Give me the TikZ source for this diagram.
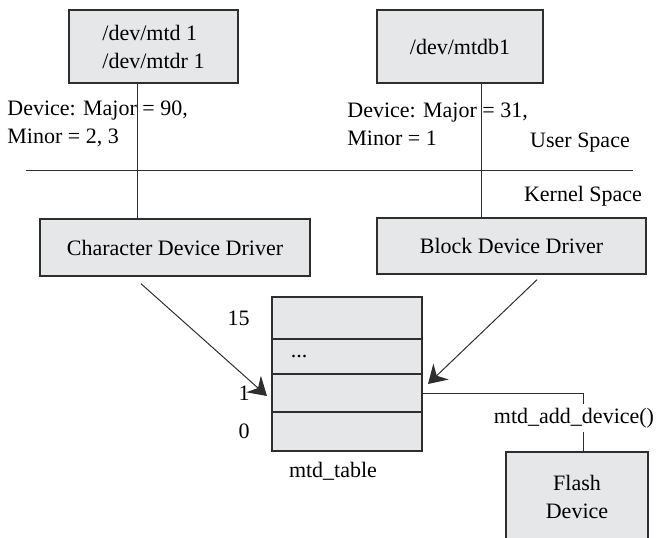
\documentclass[tikz,border=0pt]{standalone}
\usepackage{fontspec}
\setmainfont{Liberation Serif}
\usetikzlibrary{arrows.meta,positioning}
\definecolor{boxgray}{HTML}{E6E7E8}
\definecolor{linegray}{HTML}{2E2E2E}

\begin{document}
\begin{tikzpicture}[x=0.5pt, y=-0.5pt, node distance=0pt, font=\fontsize{11}{14}\selectfont]

% Define styles
\tikzstyle{devbox} = [rectangle, draw=linegray, fill=boxgray, line width=0.7pt, inner sep=0pt]
\tikzstyle{tablerow} = [rectangle, draw=linegray, fill=boxgray, line width=0.6pt, minimum width=75pt, inner sep=0pt, outer sep=0pt]
\tikzstyle{plaintext} = [inner sep=0pt]
\tikzstyle{link} = [draw=linegray, line width=0.5pt]
\tikzstyle{arrow} = [link, -{Stealth[length=9pt, width=11pt, inset=3pt]}]

\useasboundingbox (0,0) rectangle (657,537);

% Device files (user space)
\node (dev_mtd) [devbox, minimum width=84.5pt, minimum height=36.5pt, align=left] at (153.5,46.5) {/dev/mtd 1\\/dev/mtdr 1};
\node (dev_mtdb) [devbox, minimum width=83pt, minimum height=36.5pt] at (460,46.5) {/dev/mtdb1};

\node (maj90) [plaintext, anchor=west, align=left] at (7,124) {Device: Major = 90,\\Minor = 2, 3};
\node (maj31) [plaintext, anchor=west, align=left] at (347,124) {Device: Major = 31,\\Minor = 1};

% User / kernel boundary
\coordinate (sep_l) at (26,170);
\coordinate (sep_r) at (633,170);
\draw [link] (sep_l) -- (sep_r);
\node (user_sp) [plaintext] at (580,143) {User Space};
\node (kern_sp) [plaintext] at (583,196) {Kernel Space};

% Drivers
\node (char_drv) [devbox, minimum width=135pt, minimum height=28.5pt] at (175,247.5) {Character Device Driver};
\node (blk_drv) [devbox, minimum width=134.5pt, minimum height=28pt] at (511.5,246) {Block Device Driver};

% mtd_table
\node (row15) [tablerow, minimum height=21pt] at (347,318) {};
\node (rowdots) [tablerow, minimum height=17.5pt, below=of row15] {};
\node (row1) [tablerow, minimum height=19pt, below=of rowdots] {};
\node (row0) [tablerow, minimum height=19.5pt, below=of row1] {};
\node (dots) [plaintext] at (299,356) {...};
\node (lbl15) [plaintext, left=11pt of row15] {15};
\node (lbl1) [plaintext, left=11pt of row1] {1};
\node (lbl0) [plaintext, left=11pt of row0] {0};
\node (tbl_name) [plaintext] at (333,471) {mtd\_table};

% Flash device
\node (flash) [devbox, minimum width=71pt, minimum height=45pt, align=center] at (577,497) {Flash\\Device};
\node (add_dev) [plaintext, inner sep=2pt] at (574,418) {mtd\_add\_device()};

% Connections
\coordinate (char_x) at (137,0);
\coordinate (blk_x) at (481,0);
\coordinate (tap) at (583,0);
\draw [link] (dev_mtd.south -| char_x) -- (char_drv.north -| char_x);
\draw [link] (dev_mtdb.south -| blk_x) -- (blk_drv.north -| blk_x);
\draw [arrow] ([shift={(-17pt,-3.5pt)}]char_drv.south) -- ([shift={(-2.5pt,-1.5pt)}]row1.west);
\draw [arrow] ([shift={(12.75pt,-2.5pt)}]blk_drv.south) -- ([shift={(3pt,4.5pt)}]row1.east);
\draw [link] (row1.east) -| (add_dev.north -| tap);
\draw [link] (add_dev.south -| tap) -- (flash.north -| tap);

\end{tikzpicture}
\end{document}
